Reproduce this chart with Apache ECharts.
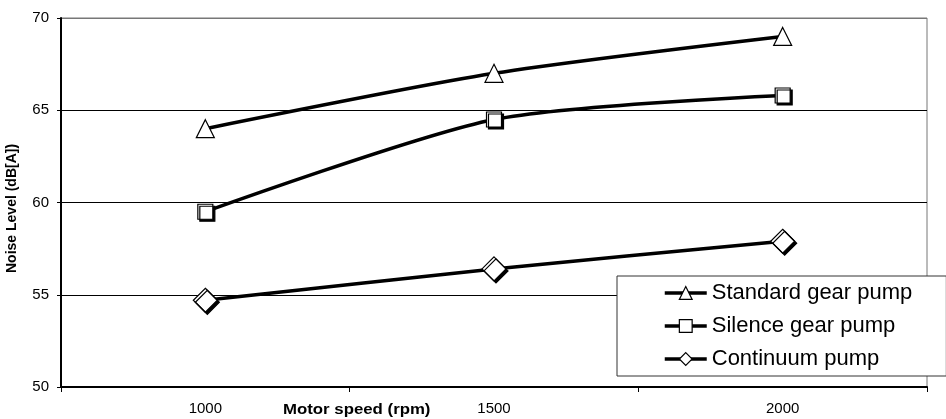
<!DOCTYPE html>
<html>
<head>
<meta charset="utf-8">
<script src="https://cdn.jsdelivr.net/npm/echarts@6/dist/echarts.min.js"></script>
<style>html,body{margin:0;padding:0;background:#fff;}#c{width:946px;height:419px;}</style>
</head>
<body>
<div id="c"></div>
<script>
var categories = ['1000', '1500', '2000'];
var standardGear = [64.0, 67.0, 69.0];
var silenceGear = [59.5, 64.5, 65.8];
var continuum = [54.7, 56.4, 57.9];
var yTicks = [50, 55, 60, 65, 70];

var chart = echarts.init(document.getElementById('c'));
var font = 'Liberation Sans, Arial, sans-serif';
function mk(name, data, symbol, size, shadow) {
  return {
    name: name, type: 'line', data: data, smooth: 0.25,
    symbol: symbol, symbolSize: size, showAllSymbol: true,
    lineStyle: { color: '#000', width: 3.5 },
    itemStyle: { color: '#fff', borderColor: '#000', borderWidth: 1.2,
      shadowColor: shadow ? '#000' : 'transparent', shadowBlur: 0, shadowOffsetX: 2, shadowOffsetY: 2 },
    emphasis: { disabled: true },
    z: 3
  };
}
chart.setOption({
  animation: false,
  grid: { left: 61, right: 19, top: 18, bottom: 32, show: true, borderColor: '#777', borderWidth: 1 },
  xAxis: {
    type: 'category', data: categories, boundaryGap: true,
    axisLine: { lineStyle: { color: '#000', width: 2 } },
    axisTick: { show: true, length: 5, lineStyle: { color: '#000', width: 1 } },
    axisLabel: { color: '#000', fontSize: 15, fontFamily: font, margin: 14 }
  },
  yAxis: {
    type: 'value', min: yTicks[0], max: yTicks[yTicks.length - 1], interval: 5,
    axisLine: { show: true, lineStyle: { color: '#000', width: 2 } },
    axisTick: { show: true, length: 4, lineStyle: { color: '#000' } },
    axisLabel: { color: '#000', fontSize: 15, fontFamily: font, margin: 12 },
    splitLine: { show: true, lineStyle: { color: ['#000', '#000', '#000', '#000', '#777'], width: 1 } }
  },
  legend: {
    orient: 'vertical', left: 617, top: 276,
    padding: [6, 34, 6, 46], itemGap: 11, itemWidth: 42, itemHeight: 16,
    backgroundColor: '#fff', borderColor: '#333', borderWidth: 1,
    textStyle: { color: '#000', fontSize: 22, fontFamily: font, lineHeight: 22 },
    itemStyle: { shadowColor: 'transparent', shadowOffsetX: 0, shadowOffsetY: 0, borderWidth: 1.2 },
    lineStyle: { width: 3.5, color: '#000' },
    selectedMode: false
  },
  graphic: [
    { type: 'text', left: 283, top: 403, scaleX: 1.2, style: { text: 'Motor speed (rpm)', font: 'bold 14px ' + font, fill: '#000' } },
    { type: 'text', x: 5, y: 273, rotation: Math.PI / 2, style: { text: 'Noise Level (dB[A])', font: 'bold 14px ' + font, fill: '#000', textVerticalAlign: 'top' } }
  ],
  series: [
    mk('Standard gear pump', standardGear, 'triangle', 18, false),
    mk('Silence gear pump', silenceGear, 'rect', 15, true),
    mk('Continuum pump', continuum, 'diamond', 24, true)
  ]
});
</script>
</body>
</html>
